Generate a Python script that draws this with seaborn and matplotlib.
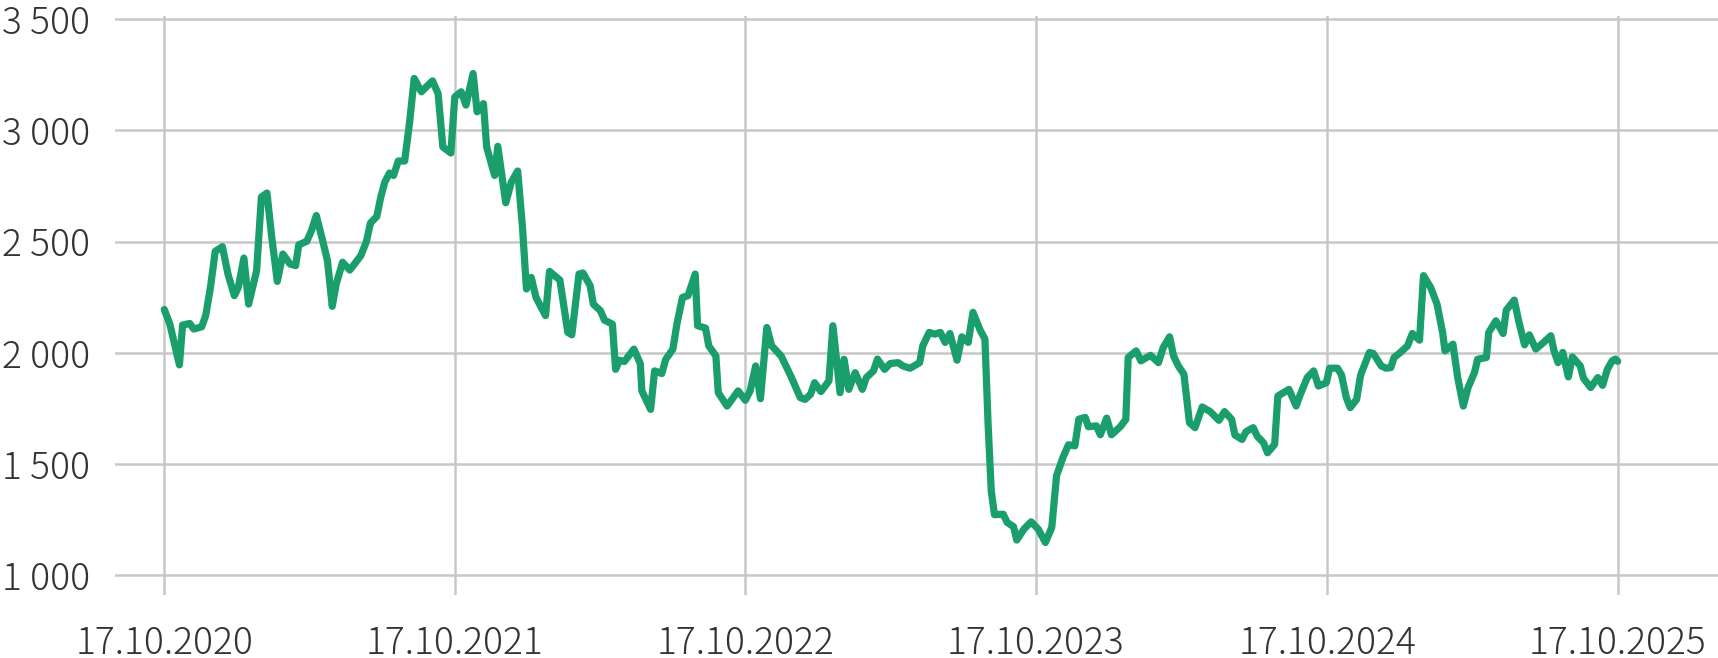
import matplotlib
matplotlib.use('Agg')
import pandas as pd
import matplotlib.pyplot as plt
import seaborn as sns

# price series (days counted from 17.10.2020)
start_date = '2020-10-17'
days = [0, 7, 19, 23, 32, 37, 47, 52, 58, 64, 73, 80, 88, 93, 100, 106, 116, 122, 129, 135,
        142, 149, 158, 165, 169, 179, 185, 191, 200, 205, 211, 216, 224, 233, 240, 247, 254, 259, 267, 272,
        277, 283, 288, 294,
        302, 308, 314, 323, 337, 344, 350, 360, 365, 373, 379, 388, 393, 401, 405, 415, 419, 429, 436, 444,
        450, 455, 461, 467, 479, 484, 497, 507, 512, 521, 526, 535, 539, 548, 553, 563, 567, 572, 578, 590,
        598, 600, 611, 616, 625, 630, 639, 644, 651, 658, 667, 670, 680, 684, 693, 696, 707, 721,
        730, 736, 743, 749, 757, 763, 775, 788, 799, 805, 812, 817, 825, 835, 840, 849, 854, 860, 868, 877,
        882, 891, 896, 905, 912, 922, 928, 937, 949, 953, 961, 968, 975, 981, 987, 996, 1002, 1010, 1016, 1025,
        1031, 1035, 1039, 1043, 1054, 1059, 1067, 1071, 1080, 1089,
        1098, 1107, 1115, 1121, 1129, 1136, 1144, 1149, 1157, 1161, 1171, 1176, 1184, 1190, 1201, 1208, 1211, 1221, 1227, 1239,
        1249, 1255, 1263, 1268, 1274, 1281, 1288, 1295, 1304, 1314, 1325, 1332, 1341, 1345, 1354, 1359, 1368, 1373, 1381, 1386,
        1395, 1399, 1413, 1422, 1427, 1436, 1444, 1450, 1460,
        1464, 1474, 1479, 1485, 1490, 1498, 1503, 1509, 1514, 1519, 1529, 1535, 1541, 1545, 1553, 1562, 1568, 1577, 1582, 1591,
        1599, 1606, 1609, 1619, 1625, 1632, 1638, 1646, 1650, 1661, 1664, 1673, 1682, 1686, 1696, 1702, 1709, 1715, 1723, 1732,
        1742, 1746, 1751, 1757, 1764, 1769, 1779, 1783, 1792, 1801, 1807, 1813, 1819, 1823, 1826]
prices = [2195, 2129, 1946, 2125, 2132, 2107, 2117, 2167, 2294, 2456, 2477, 2354, 2257, 2294, 2426, 2219, 2369, 2700, 2718, 2520,
          2321, 2444, 2399, 2392, 2486, 2501, 2550, 2617, 2489, 2414, 2209, 2309, 2407, 2372, 2404, 2437, 2501, 2583, 2613, 2700,
          2767, 2808, 2797, 2862,
          2862, 3030, 3233, 3173, 3222, 3165, 2925, 2898, 3150, 3173, 3113, 3255, 3083, 3120, 2925, 2797, 2928, 2674, 2767, 2817,
          2565, 2287, 2339, 2249, 2167, 2366, 2327, 2092, 2081, 2354, 2359, 2302, 2219, 2189, 2147, 2129, 1926, 1967, 1961, 2017,
          1952, 1829, 1746, 1919, 1907, 1971, 2017, 2129, 2249, 2257, 2354, 2122, 2111, 2032, 1986, 1821, 1761, 1829,
          1787, 1829, 1941, 1794, 2114, 2032, 1986, 1889, 1799, 1791, 1814, 1866, 1826, 1874, 2122, 1821, 1971, 1836, 1911, 1836,
          1889, 1919, 1972, 1926, 1952, 1956, 1941, 1931, 1956, 2032, 2092, 2084, 2092, 2047, 2087, 1967, 2072, 2047, 2182, 2102,
          2062, 1679, 1378, 1273, 1275, 1238, 1219, 1159, 1208, 1241,
          1208, 1148, 1216, 1448, 1530, 1587, 1582, 1702, 1710, 1668, 1672, 1632, 1707, 1632, 1668, 1701, 1979, 2009, 1964, 1989,
          1956, 2024, 2072, 1986, 1941, 1904, 1686, 1664, 1757, 1736, 1697, 1736, 1701, 1631, 1611, 1646, 1664, 1626, 1596, 1551,
          1589, 1806, 1836, 1761, 1811, 1889, 1919, 1851, 1866,
          1931, 1931, 1901, 1799, 1754, 1791, 1900, 1956, 2002, 1997, 1941, 1931, 1934, 1979, 2002, 2032, 2087, 2057, 2347, 2294,
          2219, 2092, 2009, 2039, 1889, 1761, 1844, 1911, 1971, 1979, 2092, 2144, 2087, 2192, 2237, 2137, 2036, 2081, 2017, 2044,
          2077, 2009, 1956, 2002, 1892, 1982, 1941, 1886, 1844, 1889, 1854, 1926, 1964, 1972, 1962]

tick_dates = ['2020-10-17', '2021-10-17', '2022-10-17', '2023-10-17', '2024-10-17', '2025-10-17']
y_ticks = [1000, 1500, 2000, 2500, 3000, 3500]

df = pd.DataFrame({'date': pd.Timestamp(start_date) + pd.to_timedelta(days, unit='D'),
                   'price': prices})

sns.set_theme(style='white')
plt.rcParams['font.family'] = ['Noto Sans CJK JP', 'DejaVu Sans']
plt.rcParams['font.weight'] = 'light'

fig = plt.figure(figsize=(17.18, 6.58), dpi=100)
ax = fig.add_axes([0.0669, 0.0957, 0.9331, 0.8795])

sns.lineplot(data=df, x='date', y='price', ax=ax, color='#1a9e6c', linewidth=5.2,
             solid_joinstyle='round', solid_capstyle='round')

ax.set_xlim(pd.Timestamp('2020-08-16'), pd.Timestamp('2026-02-20'))
ax.set_ylim(912, 3512)

ax.set_xticks(pd.to_datetime(tick_dates))
ax.set_xticklabels([pd.Timestamp(d).strftime('%d.%m.%Y') for d in tick_dates])
ax.set_yticks(y_ticks)
ax.set_yticklabels([f'{v:,}'.replace(',', ' ') for v in y_ticks])

ax.grid(True, color='#c8c8c8', linewidth=1.8)
ax.set_axisbelow(True)
for s in ax.spines.values():
    s.set_visible(False)

ax.tick_params(axis='both', length=0, labelsize=26.8, colors='#333333')
ax.tick_params(axis='x', pad=21)
ax.tick_params(axis='y', pad=18)
ax.set_xlabel('')
ax.set_ylabel('')

fig.savefig('out.png', dpi=100)
